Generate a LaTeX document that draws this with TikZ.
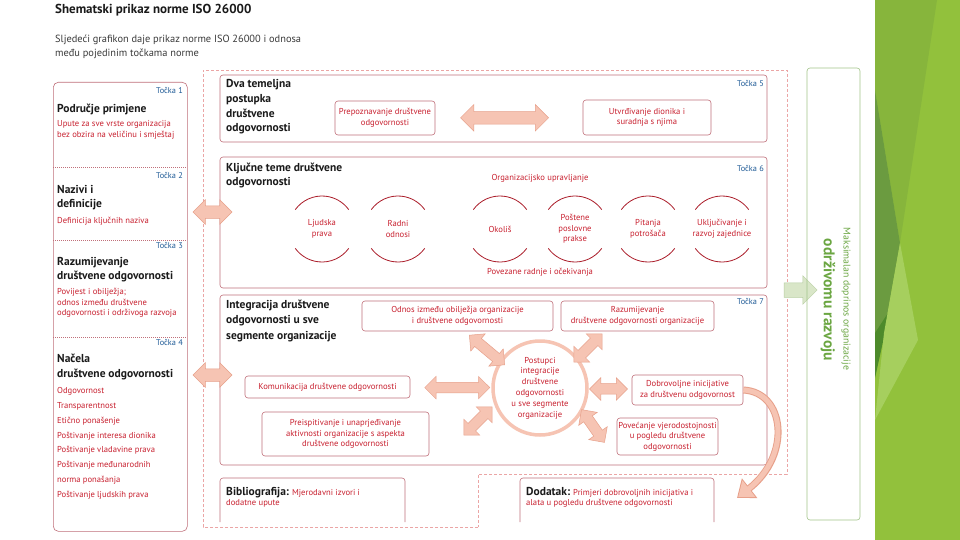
\documentclass[tikz,border=0pt]{standalone}
\usepackage{fontspec}
\setmainfont{PT Sans}
\usetikzlibrary{calc,positioning,shapes.arrows,arrows.meta}

\definecolor{crvena}{HTML}{C8202F}
\definecolor{rub}{HTML}{C0707A}
\definecolor{ruzicasta}{HTML}{EBA5A5}
\definecolor{plava}{HTML}{1E5A96}
\definecolor{losos}{HTML}{F6C4B3}
\definecolor{lososrub}{HTML}{E7A08A}
\definecolor{zelena}{HTML}{6BA642}
\definecolor{zelenrub}{HTML}{A3C48A}
\definecolor{blijedozel}{HTML}{D9E6C8}
\definecolor{blijedorub}{HTML}{B8CFA2}
\definecolor{tamna}{HTML}{1A1A1A}
\definecolor{siva}{HTML}{3A3A3A}

\tikzset{ box/.style = { draw = rub
                       , line width = 0.6pt
                       , rounded corners = 3pt
                       , inner sep = 0pt
                       },
          rt/.style = { text = crvena
                      , font = \fontsize{8.6}{10.5}\selectfont
                      , align = center
                      , inner sep = 0pt
                      },
          nsl/.style = { text = tamna
                       , font = \bfseries\fontsize{11.5}{14.6}\selectfont
                       , anchor = north west
                       , align = left
                       , inner sep = 0pt
                       },
          tck/.style = { text = plava
                       , font = \fontsize{8.3}{9}\selectfont
                       , anchor = base east
                       , inner sep = 0pt
                       },
          dbl/.style = { double arrow
                       , fill = losos
                       , draw = lososrub
                       , line width = 0.5pt
                       , inner xsep = 0pt
                       , inner ysep = 5pt
                       , double arrow head extend = 6pt
                       },
          tema/.style = { circle
                        , text = crvena
                        , font = \fontsize{8.6}{10.5}\selectfont
                        , align = center
                        , minimum size = 66
                        , inner sep = 0pt
                        },
          luk/.style = { draw = crvena!85!black
                       , line width = 0.8pt
                       },
          crta/.style = { draw = ruzicasta
                        , line width = 0.7pt
                        , dash pattern = on 3pt off 2pt
                        }
        }

\begin{document}
\begin{tikzpicture}[x=1pt, y=-1pt]
\fill[white] (0,0) rectangle (960,540);
\useasboundingbox (0,0) rectangle (960,540);

% zeleni rub desno
\fill[fill={rgb,255:red,146;green,193;blue,60}] (875,0) rectangle (960,540);
\fill[fill={rgb,255:red,135;green,181;blue,60}] (875,0) -- (937,0) -- (900,243) -- (875,90) -- cycle;
\fill[fill={rgb,255:red,107;green,155;blue,64}] (875,90) -- (900,243) -- (884,333) -- (875,333) -- cycle;
\fill[fill={rgb,255:red,77;green,138;blue,43}] (875,333) -- (890,310) -- (875,378) -- cycle;
\fill[fill={rgb,255:red,166;green,207;blue,94}] (900,243) -- (918,340) -- (875,420) -- (884,333) -- cycle;

% naslov
\node[anchor=base west, font=\bfseries\fontsize{13}{15}\selectfont, text=tamna, inner sep=0] (naslov) at (55,14) {Shematski prikaz norme ISO 26000};
\node[anchor=north west, align=left, font=\fontsize{10.4}{14.5}\selectfont, text=siva, inner sep=0] (podnaslov) at (55,34.5) {Sljedeći grafikon daje prikaz norme ISO 26000 i odnosa\\među pojedinim točkama norme};

% lijevi stupac
\node[box, rounded corners=5pt, minimum width=134, minimum height=449, anchor=north west] (lijevo) at (53,82) {};
\foreach \y in {167,240,337}
    \draw[rub, line width=0.5pt, dash pattern=on 1pt off 1pt] (53,\y) -- (187,\y);

\node[tck] (t1) at (183,93.5) {Točka 1};
\node[nsl] (h1) at (57,104) {Područje primjene};
\node[rt, anchor=north west, align=left] (r1) at (57,120.5) {Upute za sve vrste organizacija\\bez obzira na veličinu i smještaj};

\node[tck] (t2) at (183,178.5) {Točka 2};
\node[nsl, font=\bfseries\fontsize{11.5}{14}\selectfont] (h2) at (57,185.5) {Nazivi i\\definicije};
\node[rt, anchor=north west, align=left] (r2) at (57,217.5) {Definicija ključnih naziva};

\node[tck] (t3) at (183,248.5) {Točka 3};
\node[nsl, font=\bfseries\fontsize{11.5}{14}\selectfont] (h3) at (57,257.5) {Razumijevanje\\društvene odgovornosti};
\node[rt, anchor=north west, align=left] (r3) at (57,288.5) {Povijest i obilježja;\\odnos između društvene\\odgovornosti i održivoga razvoja};

\node[tck] (t4) at (183,345.5) {Točka 4};
\node[nsl, font=\bfseries\fontsize{11.5}{15.5}\selectfont] (h4) at (57,353.5) {Načela\\društvene odgovornosti};
\foreach \tekst [count=\i] in {Odgovornost, Transparentnost, Etično ponašenje, Poštivanje interesa dionika, Poštivanje vladavine prava, Poštivanje međunarodnih, norma ponašanja, Poštivanje ljudskih prava}
    \node[rt, anchor=base west] (n\i) at (57,{378.6+14.86*\i}) {\tekst};

% vanjski isprekidani okvir
\draw[crta] (478,527) -- (203,527) -- (203,70) -- (787,70) -- (787,474) -- (478,474) -- cycle;

% tocka 5
\node[box, minimum width=547, minimum height=67] (b5) at (493.5,108.5) {};
\node[nsl] (h5) at (226,79.5) {Dva temeljna\\postupka\\društvene\\odgovornosti};
\node[tck] (t5) at (764,86.5) {Točka 5};
\node[box, rt, minimum width=100, minimum height=34] (prep) at (385,118) {Prepoznavanje društvene\\odgovornosti};
\node[box, rt, minimum width=128, minimum height=35] (utvr) at (647,117.5) {Utvrđivanje dionika i\\suradnja s njima};
\path (prep) -- (utvr) node[dbl, pos=0.47, minimum height=88, inner ysep=6pt, double arrow head extend=7pt] (a5) {};

% tocka 6
\node[box, minimum width=547, minimum height=131] (b6) at (493.5,222.5) {};
\node[nsl] (h6) at (226,162.5) {Ključne teme društvene\\odgovornosti};
\node[tck] (t6) at (764,171.5) {Točka 6};
\node[rt] (upr) at (540,178) {Organizacijsko upravljanje};
\foreach \ime/\x/\tekst in {lj/322/{Ljudska\\prava}, ro/398/{Radni\\odnosi}, ok/500/{Okoliš}, pp/575/{Poštene\\poslovne\\prakse}, pt/648/{Pitanja\\potrošača}, uk/722/{Uključivanje i\\razvoj zajednice}}
{
    \node[tema] (\ime) at (\x,229) {\tekst};
    \draw[luk] ($(\ime)+(36:33)$) arc[start angle=36, end angle=144, radius=33];
    \draw[luk] ($(\ime)+(216:33)$) arc[start angle=216, end angle=324, radius=33];
}
\node[rt] (pov) at (540,272) {Povezane radnje i očekivanja};

% tocka 7
\node[box, minimum width=547, minimum height=170] (b7) at (493.5,380) {};
\node[nsl, font=\bfseries\fontsize{11.5}{15.5}\selectfont] (h7) at (226,299.5) {Integracija društvene\\odgovornosti u sve\\segmente organizacije};
\node[tck] (t7) at (764,304.5) {Točka 7};
\node[box, rt, minimum width=191, minimum height=30] (odnos) at (457.5,316) {Odnos između obilježja organizacije\\i društvene odgovornosti};
\node[box, rt, minimum width=153, minimum height=30] (razum) at (637.5,316) {Razumijevanje\\društvene odgovornosti organizacije};
\node[circle, draw=losos, line width=3.5pt, minimum size=94, rt, font=\fontsize{8.6}{10.8}\selectfont] (post) at (540,388) {Postupci\\integracije\\društvene\\odgovornosti\\u sve segmente\\organizacije};
\node[box, rt, minimum width=165, minimum height=22] (komun) at (327.5,387) {Komunikacija društvene odgovornosti};
\node[box, rt, minimum width=111, minimum height=30] (dobro) at (687.5,390) {Dobrovoljne inicijative\\za društvenu odgovornost};
\node[box, rt, minimum width=167, minimum height=44] (preis) at (345.5,434) {Preispitivanje i unaprjeđivanje\\aktivnosti organizacije s aspekta\\društvene odgovornosti};
\node[box, rt, minimum width=101, minimum height=37] (povec) at (667.5,436.5) {Povećanje vjerodostojnosti\\u pogledu društvene\\odgovornosti};

\node[dbl, minimum height=46, rotate=-40] (a71) at ($(post)+(-53,-38)$) {};
\node[dbl, minimum height=40, rotate=45] (a72) at ($(post)+(48,-40)$) {};
\path (komun) -- (post) node[dbl, pos=0.58, minimum height=65] (a73) {};
\path (post) -- (dobro) node[dbl, pos=0.46, minimum height=38] (a74) {};
\node[dbl, minimum height=40, rotate=45] (a75) at ($(post)+(-62,33)$) {};
\node[dbl, minimum height=40, rotate=-55] (a76) at ($(post)+(53,38)$) {};

% luk prema dodatku
\coordinate (kraj) at (737,498);
\draw[draw=lososrub, line width=7pt, -{Triangle[width=24pt, length=16pt]}] (dobro.east) .. controls (785,392) and (792,455) .. (kraj);
\draw[draw=losos, line width=5pt, -{Triangle[width=20pt, length=13.5pt]}] (dobro.east) .. controls (785,392) and (792,455) .. ($(kraj)+(1.2,-1)$);

% lijeve strelice
\node[dbl, minimum height=39, inner ysep=6pt] (a2) at (212.5,212) {};
\node[dbl, minimum height=39, inner ysep=6pt] (a4) at (212.5,375) {};

% bibliografija i dodatak
\draw[box] (220,522) -- (220,478) -- (405,478) -- (405,522);
\node[rt, anchor=north west, align=left] (bibl) at (226,487) {{\color{tamna}\bfseries\fontsize{11.5}{12}\selectfont Bibliografija:} Mjerodavni izvori i\\dodatne upute};
\draw[box] (520,522) -- (520,478) -- (714,478) -- (714,522);
\node[rt, anchor=north west, align=left] (dod) at (526,487) {{\color{tamna}\bfseries\fontsize{11.5}{12}\selectfont Dodatak:} Primjeri dobrovoljnih inicijativa i\\alata u pogledu društvene odgovornosti};

% odrzivi razvoj
\node[single arrow, fill=blijedozel, draw=blijedorub, line width=0.5pt, inner xsep=0pt, inner ysep=7pt, minimum height=33, single arrow head extend=7pt] (zstr) at (797,290) {};
\draw[zelenrub, line width=0.6pt, rounded corners=3pt] (807,68) rectangle (860,520);
\node[rotate=-90, text=zelena, font=\fontsize{9.8}{11}\selectfont, inner sep=0] (maks) at (846,299) {Maksimalan doprinos organizacije};
\node[rotate=-90, text=zelena, font=\bfseries\fontsize{15.5}{17}\selectfont, inner sep=0] (odr) at (828,300) {održivomu razvoju};
\end{tikzpicture}
\end{document}
